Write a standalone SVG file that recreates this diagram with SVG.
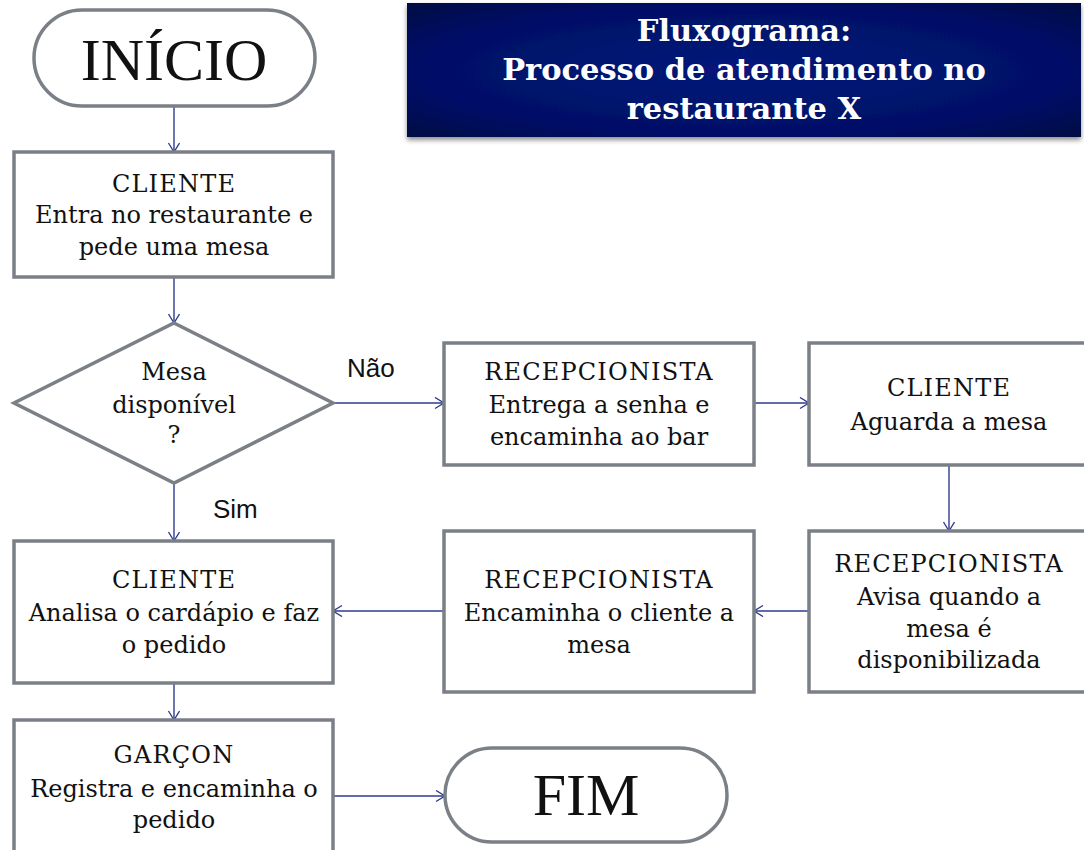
<svg xmlns="http://www.w3.org/2000/svg" width="1084" height="850" viewBox="0 0 1084 850">
<defs>
<radialGradient id="tg" cx="0.5" cy="0.5" r="0.7">
<stop offset="0" stop-color="#07177a"/>
<stop offset="0.7" stop-color="#021066"/>
<stop offset="1" stop-color="#000844"/>
</radialGradient>
<filter id="sh" x="-5%" y="-10%" width="110%" height="130%">
<feDropShadow dx="0" dy="3" stdDeviation="2.5" flood-color="#000" flood-opacity="0.45"/>
</filter>
<marker id="ah" markerWidth="12" markerHeight="14" refX="10" refY="6" orient="auto" markerUnits="userSpaceOnUse">
<path d="M1,0.5 L10,6 L1,11.5" fill="none" stroke="#2f3b8e" stroke-width="1.4"/>
</marker>
</defs>
<style>
.box{fill:#fff;stroke:#7b7f86;stroke-width:3.5}
.t{font-family:"DejaVu Serif","Liberation Serif",serif;font-size:24px;fill:#111;text-anchor:middle}
.cap{letter-spacing:1.2px}
.big{font-family:"Liberation Serif","DejaVu Serif",serif;font-size:60px;fill:#111;text-anchor:middle}
.lbl{font-family:"Liberation Sans",Arial,sans-serif;font-size:26px;fill:#111}
.title{font-family:"DejaVu Serif","Liberation Serif",serif;font-size:30.5px;font-weight:bold;fill:#fff;text-anchor:middle}
.c{stroke:#2f3b8e;stroke-width:1.4;fill:none;marker-end:url(#ah)}
</style>
<rect width="1084" height="850" fill="#fff"/>
<g id="title">
<rect x="407" y="3" width="674" height="134" fill="url(#tg)" filter="url(#sh)"/>
<text class="title" x="744" y="41">Fluxograma:</text>
<text class="title" x="744" y="80">Processo de atendimento no</text>
<text class="title" x="744" y="119">restaurante X</text>
</g>
<g id="connectors">
<line class="c" x1="174" y1="106" x2="174" y2="152"/>
<line class="c" x1="174" y1="277" x2="174" y2="323"/>
<line class="c" x1="333" y1="403" x2="444" y2="403"/>
<line class="c" x1="754" y1="403" x2="809" y2="403"/>
<line class="c" x1="949" y1="465" x2="949" y2="531"/>
<line class="c" x1="809" y1="611" x2="754" y2="611"/>
<line class="c" x1="444" y1="611" x2="333" y2="611"/>
<line class="c" x1="174" y1="483" x2="174" y2="541"/>
<line class="c" x1="174" y1="683" x2="174" y2="720"/>
<line class="c" x1="333" y1="796" x2="445" y2="796"/>
<text class="lbl" x="347" y="377">Não</text>
<text class="lbl" x="213" y="518">Sim</text>
</g>
<g id="inicio">
<rect class="box" x="34" y="10" width="281" height="96" rx="48"/>
<text class="big" x="174" y="80">INÍCIO</text>
</g>
<g id="cliente1">
<rect class="box" x="14" y="152" width="319" height="125"/>
<text class="t cap" x="174" y="192">CLIENTE</text>
<text class="t" x="174" y="223">Entra no restaurante e</text>
<text class="t" x="174" y="255">pede uma mesa</text>
</g>
<g id="decisao">
<polygon class="box" points="174,323 333,403 174,483 14,403"/>
<text class="t" x="174" y="380">Mesa</text>
<text class="t" x="174" y="413">disponível</text>
<text class="t" x="174" y="443">?</text>
</g>
<g id="recep1">
<rect class="box" x="444" y="343" width="310" height="122"/>
<text class="t cap" x="599" y="380">RECEPCIONISTA</text>
<text class="t" x="599" y="413">Entrega a senha e</text>
<text class="t" x="599" y="445">encaminha ao bar</text>
</g>
<g id="cliente2">
<rect class="box" x="809" y="343" width="282" height="122"/>
<text class="t cap" x="949" y="396">CLIENTE</text>
<text class="t" x="949" y="430">Aguarda a mesa</text>
</g>
<g id="recep3">
<rect class="box" x="809" y="531" width="282" height="161"/>
<text class="t cap" x="949" y="572">RECEPCIONISTA</text>
<text class="t" x="949" y="605">Avisa quando a</text>
<text class="t" x="949" y="637">mesa é</text>
<text class="t" x="949" y="668">disponibilizada</text>
</g>
<g id="recep2">
<rect class="box" x="444" y="531" width="310" height="161"/>
<text class="t cap" x="599" y="588">RECEPCIONISTA</text>
<text class="t" x="599" y="621">Encaminha o cliente a</text>
<text class="t" x="599" y="653">mesa</text>
</g>
<g id="cliente3">
<rect class="box" x="14" y="541" width="319" height="142"/>
<text class="t cap" x="174" y="588">CLIENTE</text>
<text class="t" x="174" y="621">Analisa o cardápio e faz</text>
<text class="t" x="174" y="653">o pedido</text>
</g>
<g id="garcon">
<rect class="box" x="14" y="720" width="319" height="145"/>
<text class="t cap" x="174" y="763">GARÇON</text>
<text class="t" x="174" y="797">Registra e encaminha o</text>
<text class="t" x="174" y="828">pedido</text>
</g>
<g id="fim">
<rect class="box" x="445" y="748" width="282" height="94" rx="47"/>
<text class="big" x="586" y="815">FIM</text>
</g>
</svg>
